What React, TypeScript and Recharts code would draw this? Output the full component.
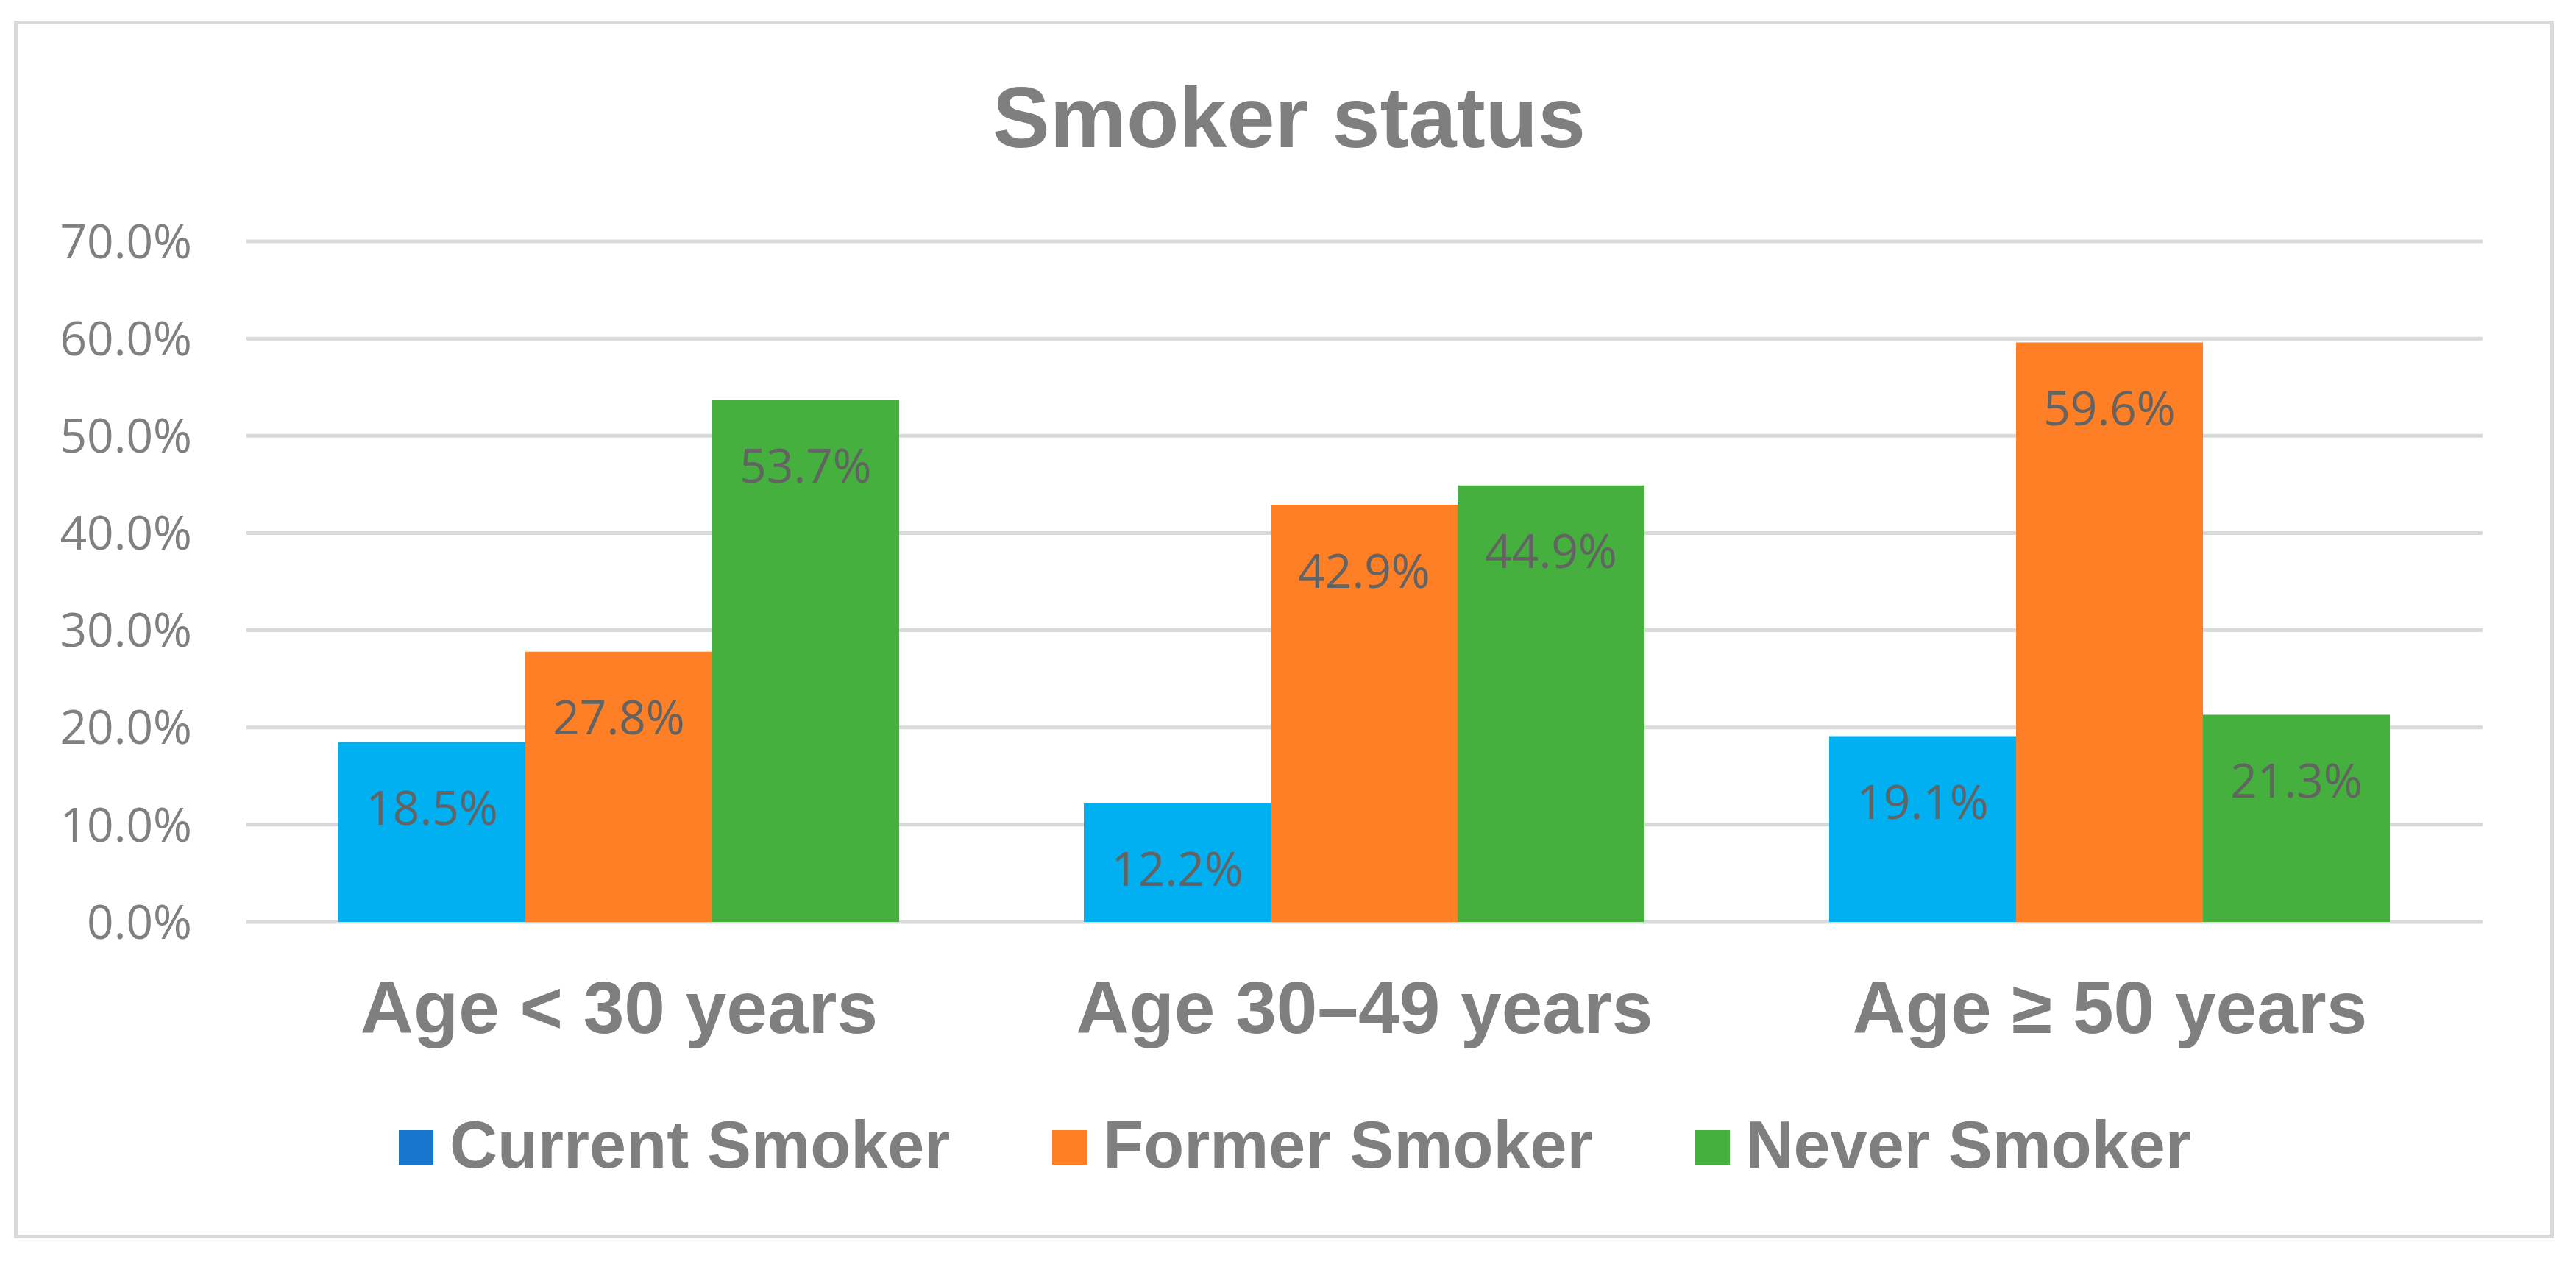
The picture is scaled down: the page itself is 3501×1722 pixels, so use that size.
import { BarChart, Bar, XAxis, YAxis, CartesianGrid, LabelList } from "recharts"

const categories = ["Age < 30 years", "Age 30–49 years", "Age ≥ 50 years"]
const currentSmoker = [18.5, 12.2, 19.1]
const formerSmoker = [27.8, 42.9, 59.6]
const neverSmoker = [53.7, 44.9, 21.3]
const yTicks = [0, 10, 20, 30, 40, 50, 60, 70]

const seriesNames = ["Current Smoker", "Former Smoker", "Never Smoker"]
const barColors = ["#00B0F0", "#FF7F27", "#45B03D"]
const legendColors = ["#1874CC", "#FF7F27", "#45B03D"]

const data = categories.map((name, i) => ({
  name,
  current: currentSmoker[i],
  former: formerSmoker[i],
  never: neverSmoker[i],
}))

const pct = (v: number) => `${Number(v).toFixed(1)}%`

const boldFont = "'Liberation Sans', Arial, sans-serif"
const plainFont = "'Open Sans', sans-serif"

export default function App() {
  const keys = ["current", "former", "never"]
  return (
    <div style={{ position: "absolute", left: 0, top: 0, width: 3501, height: 1722, background: "#fff" }}>
      {/* chart frame */}
      <div
        style={{
          position: "absolute",
          left: 19,
          top: 28,
          width: 3452,
          height: 1655,
          border: "5px solid #d9d9d9",
          boxSizing: "border-box",
        }}
      />
      <div
        style={{
          position: "absolute",
          left: 752,
          top: 101,
          width: 2000,
          textAlign: "center",
          fontFamily: boldFont,
          fontWeight: "bold",
          fontSize: 117,
          lineHeight: "117px",
          color: "#7f7f7f",
        }}
      >
        Smoker status
      </div>

      <div style={{ position: "absolute", left: 0, top: 0 }}>
        <BarChart
          width={3501}
          height={1722}
          data={data}
          margin={{ top: 328, right: 127, bottom: 439, left: 0 }}
          barCategoryGap={125}
          barGap={0}
        >
          <CartesianGrid vertical={false} stroke="#d9d9d9" strokeWidth={5} />
          <XAxis
            dataKey="name"
            height={30}
            axisLine={false}
            tickLine={false}
            tickSize={0}
            tickMargin={80}
            interval={0}
            tick={{ fill: "#7f7f7f", fontSize: 100, fontWeight: "bold", fontFamily: boldFont }}
          />
          <YAxis
            width={335}
            domain={[0, 70]}
            ticks={yTicks}
            tickFormatter={pct}
            axisLine={false}
            tickLine={false}
            tickSize={0}
            tickMargin={74}
            tick={{ fill: "#808080", fontSize: 64, fontFamily: plainFont }}
          />
          {keys.map((k, i) => (
            <Bar key={k} dataKey={k} name={seriesNames[i]} fill={barColors[i]} isAnimationActive={false}>
              <LabelList
                dataKey={k}
                position="insideTop"
                offset={67}
                formatter={pct}
                style={{ fill: "#636363", fontSize: 64, fontFamily: plainFont }}
              />
            </Bar>
          ))}
        </BarChart>
      </div>

      {/* legend */}
      <div
        style={{
          position: "absolute",
          left: 0,
          top: 1511,
          width: 3520,
          display: "flex",
          justifyContent: "center",
          gap: 139,
        }}
      >
        {seriesNames.map((s, i) => (
          <div key={s} style={{ display: "flex", alignItems: "flex-start" }}>
            <div style={{ width: 47, height: 47, marginTop: 25, marginRight: 22, background: legendColors[i] }} />
            <span
              style={{
                fontFamily: boldFont,
                fontWeight: "bold",
                fontSize: 90,
                lineHeight: "90px",
                color: "#7f7f7f",
              }}
            >
              {s}
            </span>
          </div>
        ))}
      </div>
    </div>
  )
}
